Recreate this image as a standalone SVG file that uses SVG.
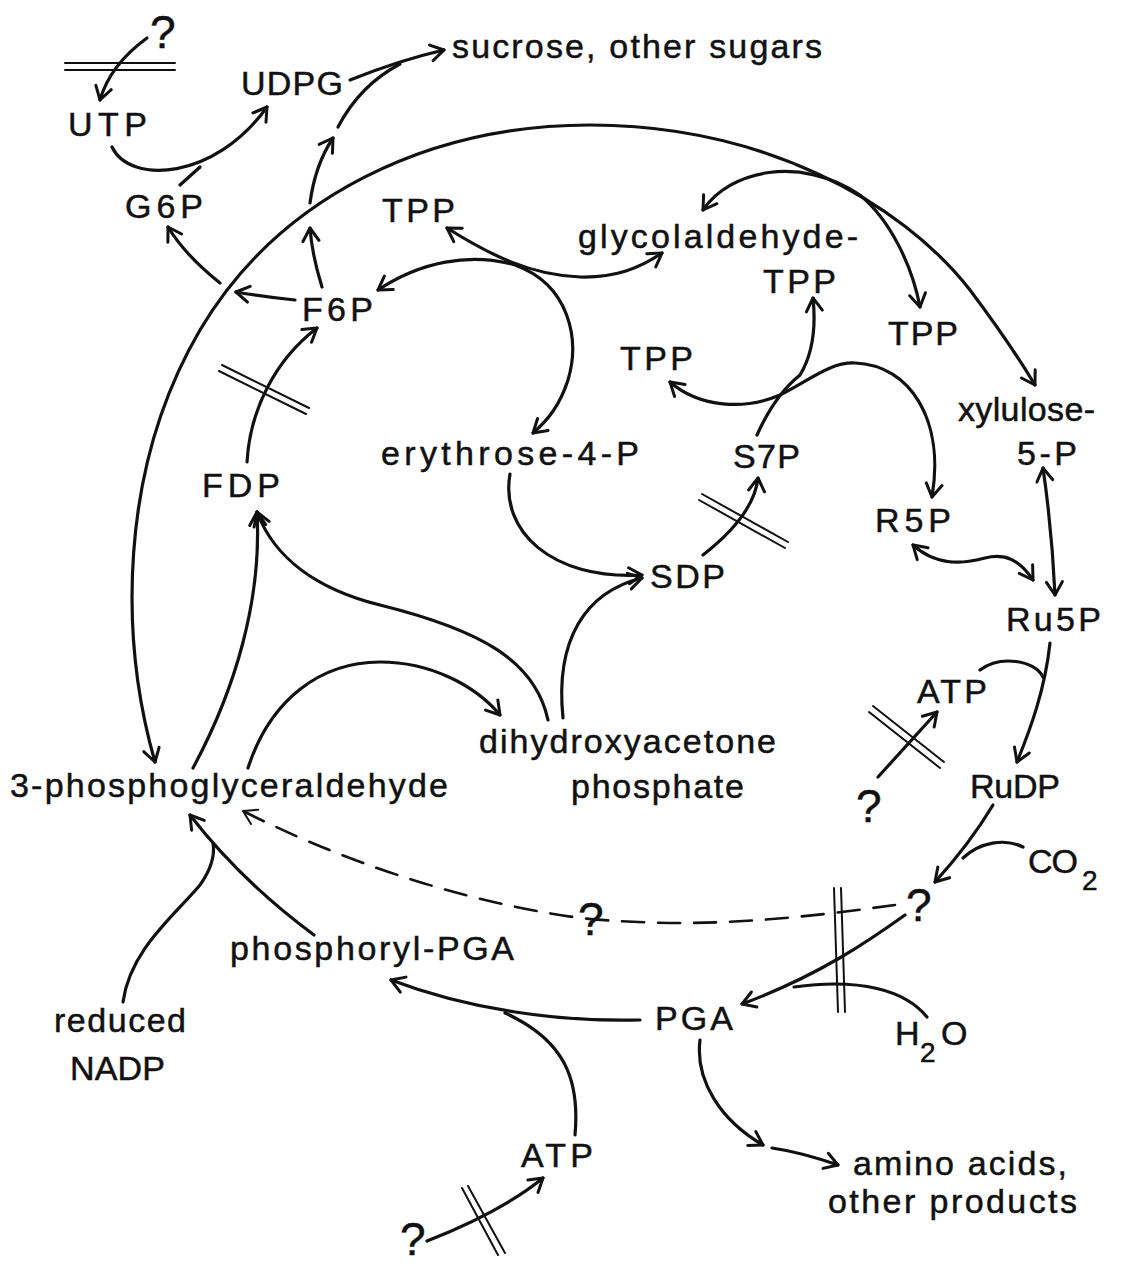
<svg xmlns="http://www.w3.org/2000/svg" width="1122" height="1266" viewBox="0 0 1122 1266">
<defs>
<style>
.t{font-family:"Liberation Sans",Arial,sans-serif;font-size:34px;fill:#111;stroke:#111;stroke-width:0.5}
.q{font-family:"Liberation Sans",Arial,sans-serif;font-size:46px;fill:#111;stroke:#111;stroke-width:0.5}
.sub{font-family:"Liberation Sans",Arial,sans-serif;font-size:28px;fill:#111;stroke:#111;stroke-width:0.5}
.c{fill:none;stroke:#111;stroke-width:3.2;stroke-linecap:round;stroke-linejoin:round}
.thin{stroke-width:2}
.d{stroke-dasharray:22 14;stroke-width:2.6}
.e{marker-end:url(#ah)}
.s{marker-start:url(#ah)}
.ed{marker-end:url(#ahd)}
</style>
<marker id="ah" viewBox="-16 -10 20 20" refX="0" refY="0" markerWidth="20" markerHeight="20" markerUnits="userSpaceOnUse" orient="auto-start-reverse">
<path d="M-13,-8 L0,0 L-13,8" fill="none" stroke="#111" stroke-width="3" stroke-linecap="round" stroke-linejoin="round"/>
</marker>
<marker id="ahd" viewBox="-16 -10 20 20" refX="0" refY="0" markerWidth="20" markerHeight="20" markerUnits="userSpaceOnUse" orient="auto">
<path d="M-13,-8 L0,0 L-13,8" fill="none" stroke="#111" stroke-width="2" stroke-linecap="round" stroke-linejoin="round"/>
</marker>
</defs>
<rect width="1122" height="1266" fill="#fff"/>

<g id="connectors">
<path class="c e" d="M147 38 Q110 65 100 100"/>
<path class="c thin" d="M65 63 L175 63 M65 70 L175 70"/>
<path class="c e" d="M112 147 C130 185 215 180 267 107"/>
<path class="c" d="M180 185 L200 167"/>
<path class="c e" d="M350 80 Q400 60 444 50"/>
<path class="c" d="M338 127 Q360 85 400 64"/>
<path class="c e" d="M322 287 Q312 255 310 228"/>
<path class="c e" d="M310 203 Q315 165 333 138"/>
<path class="c e" d="M220 283 Q185 255 168 227"/>
<path class="c e" d="M295 300 Q265 297 236 292"/>
<path class="c s e" d="M155 762 C120 640 118 470 200 330 C280 195 430 125 590 125 C760 125 900 200 970 290 C1000 330 1020 360 1035 385"/>
<path class="c s e" d="M703 210 C730 170 800 155 860 195 C890 220 912 265 920 307"/>
<path class="c s e" d="M447 228 C490 255 530 275 580 277 C615 278 640 268 662 253"/>
<path class="c s e" d="M378 290 C420 262 470 252 515 265 C570 285 580 340 568 380 C560 405 548 420 533 433"/>
<path class="c e" d="M247 462 C250 410 275 360 317 328"/>
<path class="c thin" d="M222 365 L309 408 M219 371 L306 414"/>
<path class="c e" d="M193 768 C235 690 262 600 257 512"/>
<path class="c e" d="M548 720 C535 660 480 630 380 605 C320 590 275 560 257 512"/>
<path class="c e" d="M248 768 C270 700 320 662 380 662 C430 662 475 685 500 715"/>
<path class="c e" d="M510 474 C500 530 550 580 642 575"/>
<path class="c e" d="M563 718 C555 640 585 592 642 578"/>
<path class="c e" d="M703 555 C735 530 755 505 758 478"/>
<path class="c thin" d="M702 494 L788 542 M699 500 L785 548"/>
<path class="c e" d="M757 435 Q775 395 800 375 Q818 345 813 298"/>
<path class="c s e" d="M670 382 C700 408 745 410 780 395 C810 380 830 362 855 363 C910 365 945 420 932 497"/>
<path class="c s e" d="M913 545 C935 565 960 565 985 558 C1005 553 1020 560 1033 580"/>
<path class="c s e" d="M1043 468 Q1052 530 1055 595"/>
<path class="c e" d="M1050 643 C1045 690 1030 730 1017 762"/>
<path class="c" d="M980 670 C1000 655 1035 660 1043 677"/>
<path class="c e" d="M878 777 L937 712"/>
<path class="c thin" d="M873 706 L944 762 M869 712 L940 768"/>
<path class="c e" d="M993 805 C975 835 955 860 935 882"/>
<path class="c" d="M1023 847 C1005 838 980 842 963 858"/>
<path class="c e" d="M905 915 C870 940 820 975 742 1004"/>
<path class="c" d="M927 1017 C905 990 860 978 794 987"/>
<path class="c thin" d="M834 888 L838 1012 M841 888 L845 1012"/>
<path class="c d ed" d="M895 905 C800 918 700 930 580 918 C450 900 330 855 243 811"/>
<path class="c e" d="M640 1020 C560 1022 470 1010 391 980"/>
<path class="c" d="M575 1135 C580 1080 565 1040 505 1013"/>
<path class="c e" d="M427 1241 C470 1224 510 1205 543 1178"/>
<path class="c thin" d="M462 1188 L498 1255 M468 1186 L505 1253"/>
<path class="c e" d="M700 1040 C695 1080 720 1120 763 1145"/>
<path class="c e" d="M772 1148 Q800 1152 838 1165"/>
<path class="c" d="M123 1002 C130 950 175 915 200 885 C212 868 215 855 213 843"/>
<path class="c e" d="M314 935 Q240 880 190 815"/>
</g>

<g id="n-q1"><text class="q" x="150" y="48">?</text></g>
<g id="n-utp"><text class="t" x="68" y="136" textLength="79" lengthAdjust="spacing">UTP</text></g>
<g id="n-udpg"><text class="t" x="241" y="95" textLength="102" lengthAdjust="spacing">UDPG</text></g>
<g id="n-sucrose"><text class="t" x="452" y="58" textLength="370" lengthAdjust="spacing">sucrose, other sugars</text></g>
<g id="n-g6p"><text class="t" x="125" y="218" textLength="78" lengthAdjust="spacing">G6P</text></g>
<g id="n-tpp1"><text class="t" x="382" y="222" textLength="73" lengthAdjust="spacing">TPP</text></g>
<g id="n-glycol"><text class="t" x="578" y="248" textLength="280" lengthAdjust="spacing">glycolaldehyde-</text></g>
<g id="n-f6p"><text class="t" x="302" y="321" textLength="71" lengthAdjust="spacing">F6P</text></g>
<g id="n-tpp2"><text class="t" x="763" y="293" textLength="73" lengthAdjust="spacing">TPP</text></g>
<g id="n-tpp3"><text class="t" x="888" y="345" textLength="70" lengthAdjust="spacing">TPP</text></g>
<g id="n-tpp4"><text class="t" x="620" y="370" textLength="73" lengthAdjust="spacing">TPP</text></g>
<g id="n-xylulose"><text class="t" x="958" y="421" textLength="137" lengthAdjust="spacing">xylulose-</text><text class="t" x="1017" y="465" textLength="60" lengthAdjust="spacing">5-P</text></g>
<g id="n-e4p"><text class="t" x="381" y="465" textLength="258" lengthAdjust="spacing">erythrose-4-P</text></g>
<g id="n-s7p"><text class="t" x="733" y="468" textLength="67" lengthAdjust="spacing">S7P</text></g>
<g id="n-fdp"><text class="t" x="202" y="497" textLength="78" lengthAdjust="spacing">FDP</text></g>
<g id="n-r5p"><text class="t" x="875" y="532" textLength="76" lengthAdjust="spacing">R5P</text></g>
<g id="n-sdp"><text class="t" x="650" y="588" textLength="75" lengthAdjust="spacing">SDP</text></g>
<g id="n-ru5p"><text class="t" x="1006" y="631" textLength="95" lengthAdjust="spacing">Ru5P</text></g>
<g id="n-atp1"><text class="t" x="917" y="703" textLength="70" lengthAdjust="spacing">ATP</text></g>
<g id="n-q2"><text class="q" x="856" y="822">?</text></g>
<g id="n-dhap"><text class="t" x="479" y="753" textLength="297" lengthAdjust="spacing">dihydroxyacetone</text><text class="t" x="571" y="798" textLength="173" lengthAdjust="spacing">phosphate</text></g>
<g id="n-3pga"><text class="t" x="10" y="797" textLength="438" lengthAdjust="spacing">3-phosphoglyceraldehyde</text></g>
<g id="n-rudp"><text class="t" x="970" y="798" textLength="90" lengthAdjust="spacing">RuDP</text></g>
<g id="n-co2"><text class="t" x="1028" y="873" textLength="50" lengthAdjust="spacing">CO</text><text class="sub" x="1082" y="890">2</text></g>
<g id="n-q3"><text class="q" x="906" y="921">?</text></g>
<g id="n-q4"><text class="q" x="578" y="935">?</text></g>
<g id="n-ppga"><text class="t" x="230" y="960" textLength="284" lengthAdjust="spacing">phosphoryl-PGA</text></g>
<g id="n-pga"><text class="t" x="655" y="1030" textLength="78" lengthAdjust="spacing">PGA</text></g>
<g id="n-h2o"><text class="t" x="895" y="1045">H</text><text class="sub" x="920" y="1062">2</text><text class="t" x="941" y="1045">O</text></g>
<g id="n-nadp"><text class="t" x="54" y="1032" textLength="132" lengthAdjust="spacing">reduced</text><text class="t" x="70" y="1080" textLength="95" lengthAdjust="spacing">NADP</text></g>
<g id="n-atp2"><text class="t" x="521" y="1167" textLength="72" lengthAdjust="spacing">ATP</text></g>
<g id="n-amino"><text class="t" x="853" y="1175" textLength="214" lengthAdjust="spacing">amino acids,</text><text class="t" x="828" y="1213" textLength="249" lengthAdjust="spacing">other products</text></g>
<g id="n-q5"><text class="q" x="400" y="1255">?</text></g>
</svg>
